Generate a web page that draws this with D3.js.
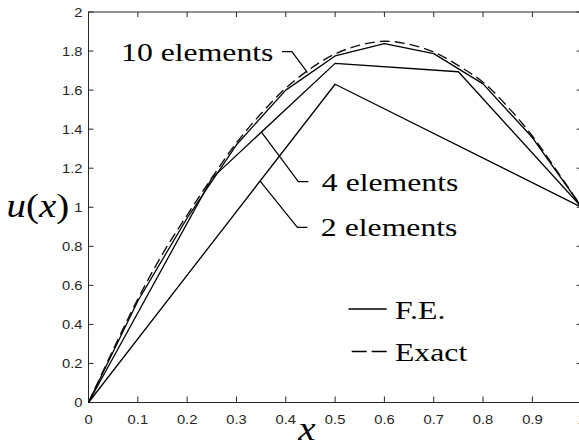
<!DOCTYPE html>
<html>
<head>
<meta charset="utf-8">
<script src="https://cdn.jsdelivr.net/npm/d3@7"></script>
<style>
  html, body { margin: 0; padding: 0; background: #fff; overflow: hidden; }
  svg { display: block; }
</style>
</head>
<body>
<svg id="chart" width="579" height="447"></svg>
<script>
// Finite-element approximations of u(x) against the exact solution.
const exactX = [0, 0.05, 0.1, 0.15, 0.2, 0.25, 0.3, 0.35, 0.4, 0.45, 0.5,
                0.55, 0.6, 0.65, 0.7, 0.75, 0.8, 0.85, 0.9, 0.95, 1];
const exactU = [0, 0.27, 0.53, 0.76, 0.96, 1.15, 1.33, 1.48, 1.61, 1.71, 1.785,
                1.83, 1.85, 1.835, 1.795, 1.725, 1.64, 1.515, 1.365, 1.185, 1];

const nodes10 = [0, 0.1, 0.2, 0.3, 0.4, 0.5, 0.6, 0.7, 0.8, 0.9, 1];
const fe10    = [0, 0.52, 0.945, 1.32, 1.6, 1.775, 1.838, 1.787, 1.632, 1.357, 1];
const nodes4  = [0, 0.25, 0.5, 0.75, 1];
const fe4     = [0, 1.148, 1.737, 1.694, 1];
const nodes2  = [0, 0.5, 1];
const fe2     = [0, 1.63, 1];

const xTicks = [0, 0.1, 0.2, 0.3, 0.4, 0.5, 0.6, 0.7, 0.8, 0.9, 1];
const xTickLabels = ["0", "0.1", "0.2", "0.3", "0.4", "0.5", "0.6", "0.7", "0.8", "0.9", "1"];
const yTicks = [0, 0.2, 0.4, 0.6, 0.8, 1, 1.2, 1.4, 1.6, 1.8, 2];
const yTickLabels = ["0", "0.2", "0.4", "0.6", "0.8", "1", "1.2", "1.4", "1.6", "1.8", "2"];

// Callouts: label text, point on the curve, elbow of the leader line
const callouts = [
  { text: "10 elements", tip: [0.444, 1.69], elbow: [0.4125, 1.797], side: "left" },
  { text: "4 elements",  tip: [0.351, 1.384], elbow: [0.4255, 1.131], side: "right" },
  { text: "2 elements",  tip: [0.348, 1.134], elbow: [0.4235, 0.897], side: "right" }
];

const legendItems = [
  { label: "F.E.",  dash: null },
  { label: "Exact", dash: "15,5" }
];

const svg = d3.select("#chart");
const axisColor = "#262626";
const serif = "'Liberation Serif', 'Times New Roman', serif";
const sans = "'Liberation Sans', Arial, sans-serif";
const stretch = 1.18;       // tick-label glyphs are drawn slightly wide
const serifStretch = 1.22;  // same for the serif annotations

const x = d3.scaleLinear().domain([0, 1]).range([88.5, 581.7]);
const y = d3.scaleLinear().domain([0, 2]).range([402.5, 12]);

// ---- axes box with inward ticks ----
const ax = svg.append("g").attr("stroke", axisColor).attr("stroke-width", 1).attr("fill", "none");
ax.append("rect")
  .attr("x", x(0)).attr("y", y(2))
  .attr("width", x(1) - x(0)).attr("height", y(0) - y(2));

ax.selectAll("line.xb").data(xTicks).join("line")
  .attr("x1", d => x(d)).attr("x2", d => x(d))
  .attr("y1", y(0)).attr("y2", y(0) - 6);
ax.selectAll("line.xt").data(xTicks).join("line")
  .attr("class", "xt")
  .attr("x1", d => x(d)).attr("x2", d => x(d))
  .attr("y1", y(2)).attr("y2", y(2) + 5);
ax.selectAll("line.yl").data(yTicks).join("line")
  .attr("class", "yl")
  .attr("x1", x(0)).attr("x2", x(0) + 5)
  .attr("y1", d => y(d)).attr("y2", d => y(d));
ax.selectAll("line.yr").data(yTicks).join("line")
  .attr("class", "yr")
  .attr("x1", x(1)).attr("x2", x(1) - 5)
  .attr("y1", d => y(d)).attr("y2", d => y(d));

// ---- tick labels ----
svg.append("g").selectAll("text").data(xTicks).join("text")
  .attr("transform", d => `translate(${x(d)},424) scale(${stretch},1)`)
  .attr("text-anchor", "middle")
  .attr("font-family", sans).attr("font-size", 12.5)
  .attr("fill", axisColor)
  .text((d, i) => xTickLabels[i]);

svg.append("g").selectAll("text").data(yTicks).join("text")
  .attr("transform", d => `translate(82.5,${y(d)}) scale(${stretch},1)`)
  .attr("text-anchor", "end")
  .attr("dy", "0.36em")
  .attr("font-family", sans).attr("font-size", 12.5)
  .attr("fill", axisColor)
  .text((d, i) => yTickLabels[i]);

// ---- axis titles ----
svg.append("text")
  .attr("transform", `translate(307,440) scale(${stretch},1)`)
  .attr("text-anchor", "middle")
  .attr("font-family", serif).attr("font-style", "italic").attr("font-size", 33)
  .text("x");

svg.append("text")
  .attr("transform", `translate(6.5,216.5) scale(${stretch},1)`)
  .attr("font-family", serif).attr("font-size", 33)
  .html('<tspan font-style="italic">u</tspan>(<tspan font-style="italic">x</tspan>)');

// ---- data ----
const plot = svg.append("g");
const poly = d3.line().x(d => x(d[0])).y(d => y(d[1]));
const smooth = d3.line().x(d => x(d[0])).y(d => y(d[1])).curve(d3.curveCatmullRom.alpha(0.5));

plot.append("path")
  .datum(exactX.map((v, i) => [v, exactU[i]]))
  .attr("d", smooth)
  .attr("fill", "none").attr("stroke", "#111").attr("stroke-width", 1.4)
  .attr("stroke-dasharray", "10,5");

[[nodes10, fe10], [nodes4, fe4], [nodes2, fe2]].forEach(([xs, us]) => {
  plot.append("path")
    .datum(xs.map((v, i) => [v, us[i]]))
    .attr("d", poly)
    .attr("fill", "none").attr("stroke", "#000").attr("stroke-width", 1.3)
    .attr("stroke-linejoin", "round");
});

// ---- callouts ----
const co = svg.append("g");
callouts.forEach(c => {
  const ex = x(c.elbow[0]), ey = y(c.elbow[1]);
  const dashLen = 10;
  const dashEnd = c.side === "left" ? ex - dashLen : ex + dashLen;
  co.append("polyline")
    .attr("points", `${x(c.tip[0])},${y(c.tip[1])} ${ex},${ey} ${dashEnd},${ey}`)
    .attr("fill", "none").attr("stroke", "#000").attr("stroke-width", 1.2);
  const tx = c.side === "left" ? dashEnd - 8.5 : dashEnd + 13.5;
  co.append("text")
    .attr("transform", `translate(${tx},${ey + 9}) scale(${serifStretch},1)`)
    .attr("text-anchor", c.side === "left" ? "end" : "start")
    .attr("font-family", serif).attr("font-size", 26)
    .text(c.text);
});

// ---- legend ----
const lg = svg.append("g");
legendItems.forEach((item, i) => {
  const ly = 309 + i * 42.5;
  lg.append("line")
    .attr("x1", item.dash ? 351.7 : 348.5).attr("x2", 386.7)
    .attr("y1", ly).attr("y2", ly)
    .attr("stroke", "#000").attr("stroke-width", 1.4)
    .attr("stroke-dasharray", item.dash);
  lg.append("text")
    .attr("transform", `translate(395,${ly + 9.5}) scale(${serifStretch},1)`)
    .attr("font-family", serif).attr("font-size", 26)
    .text(item.label);
});
</script>
</body>
</html>
